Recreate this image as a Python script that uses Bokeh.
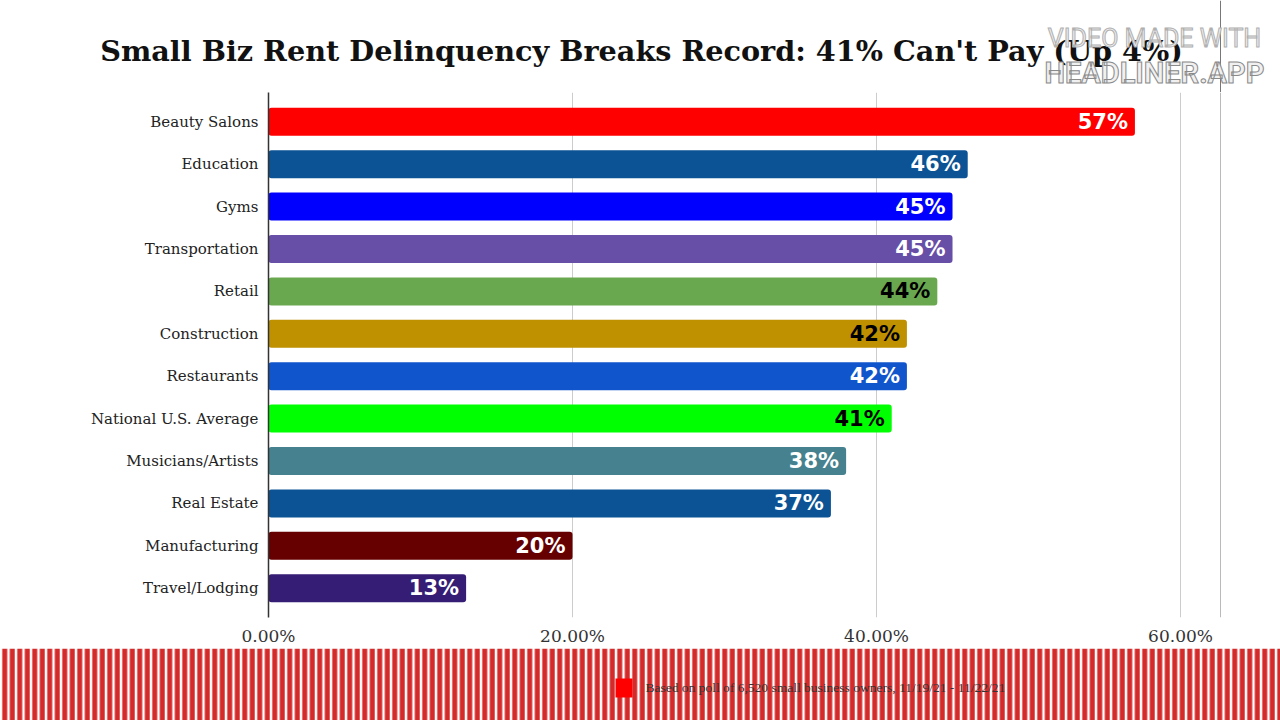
from bokeh.plotting import figure
from bokeh.models import FactorRange, Range1d, FixedTicker, ColumnDataSource, Span
from bokeh.embed import file_html
from bokeh.resources import INLINE
from bokeh.core.properties import value

categories = ["Beauty Salons", "Education", "Gyms", "Transportation", "Retail",
              "Construction", "Restaurants", "National U.S. Average",
              "Musicians/Artists", "Real Estate", "Manufacturing", "Travel/Lodging"]
values = [57, 46, 45, 45, 44, 42, 42, 41, 38, 37, 20, 13]
bar_colors = ["#ff0000", "#0b5394", "#0000ff", "#674ea7", "#6aa84f", "#bf9000",
              "#1155cc", "#00ff00", "#45818e", "#0b5394", "#660000", "#351c75"]
label_colors = ["white", "white", "white", "white", "black", "black",
                "white", "black", "white", "white", "white", "white"]
value_labels = [f"{v}%" for v in values]
x_ticks = [0, 20, 40, 60]
x_tick_labels = ["0.00%", "20.00%", "40.00%", "60.00%"]
title_text = "Small Biz Rent Delinquency Breaks Record: 41% Can't Pay (Up 4%)"
watermark_top = "VIDEO MADE WITH"
watermark_main = "HEADLINER.APP"
legend_text = "Based on poll of 6,520 small business owners, 11/19/21 - 11/22/21"

W = 1280
X_END = 62.63  # chart area extends a little past 60%

# ---------- header (title + watermark) ----------
h = figure(width=W, height=92, x_range=Range1d(0, W), y_range=Range1d(92, 0),
           output_backend="svg", toolbar_location=None, min_border=0)
h.axis.visible = False
h.grid.grid_line_color = None
h.outline_line_color = None
h.segment(x0=[1220], y0=[0], x1=[1220], y1=[92], line_color="#777777", line_width=1)
h.text(x=[641], y=[50], text=[title_text], text_align="center", text_baseline="middle",
       text_font=value("DejaVu Serif"), text_font_style="bold", text_font_size="28.7px",
       text_color="#111111")
h.text(x=[1154], y=[38], text=[watermark_top], text_align="center", text_baseline="middle",
       text_font=value("Roboto"), text_font_size="25px", text_color="#eeeeee",
       text_outline_color="#b0b0b0")
h.text(x=[1154], y=[72], text=[watermark_main], text_align="center", text_baseline="middle",
       text_font=value("Roboto"), text_font_style="bold", text_font_size="29px",
       text_color="#f0f0f0", text_outline_color="#8a8a8a")

# ---------- main chart ----------
src = ColumnDataSource(dict(cat=categories, val=values, color=bar_colors,
                            lcolor=label_colors, lbl=value_labels))

p = figure(width=W, height=556,
           y_range=FactorRange(*categories[::-1], range_padding=0.19,
                               range_padding_units="absolute"),
           x_range=Range1d(0, X_END),
           output_backend="svg", toolbar_location=None,
           min_border_left=268, min_border_right=60,
           min_border_top=0, min_border_bottom=28)

p.hbar(y="cat", left=0, right="val", height=0.66, fill_color="color",
       line_color=None, border_radius=3, source=src)
p.text(x="val", y="cat", text="lbl", text_color="lcolor", text_align="right",
       text_baseline="middle", x_offset=-7, text_font=value("DejaVu Sans"),
       text_font_style="bold", text_font_size="21px", source=src)
p.add_layout(Span(location=X_END, dimension="height", line_color="#777777", line_width=1))

p.xaxis.ticker = FixedTicker(ticks=x_ticks)
p.xaxis.major_label_overrides = dict(zip(x_ticks, x_tick_labels))
p.xaxis.axis_line_color = None
p.xaxis.major_tick_line_color = None
p.xaxis.minor_tick_line_color = None
p.xaxis.major_label_text_font = "DejaVu Serif"
p.xaxis.major_label_text_font_size = "17px"
p.xaxis.major_label_text_color = "#333333"
p.xaxis.major_label_standoff = 2

p.yaxis.axis_line_color = "#333333"
p.yaxis.axis_line_width = 1.5
p.yaxis.major_tick_line_color = None
p.yaxis.minor_tick_line_color = None
p.yaxis.major_label_text_font = "DejaVu Serif"
p.yaxis.major_label_text_font_size = "15px"
p.yaxis.major_label_text_color = "#222222"
p.yaxis.major_label_standoff = 4

p.ygrid.grid_line_color = None
p.xgrid.grid_line_color = "#cccccc"
p.xgrid.ticker = FixedTicker(ticks=x_ticks)
p.outline_line_color = None

# ---------- bottom striped band with source note ----------
b = figure(width=W, height=72, x_range=Range1d(0, W), y_range=Range1d(72, 0),
           output_backend="svg", toolbar_location=None, min_border=0)
b.axis.visible = False
b.grid.grid_line_color = None
b.outline_line_color = None
b.quad(left=0, right=W, bottom=72, top=0, fill_color="white", line_color=None,
       hatch_pattern="vertical_line", hatch_color="#d42a2a", hatch_scale=7.5,
       hatch_weight=5)
b.quad(left=615, right=632, top=30, bottom=49, fill_color="#ff0000", line_color=None)
b.text(x=[645], y=[39], text=[legend_text], text_baseline="middle",
       text_font=value("Liberation Serif"), text_font_size="13.5px", text_color="#333333")

open("out.html", "w").write(file_html([h, p, b], INLINE))
